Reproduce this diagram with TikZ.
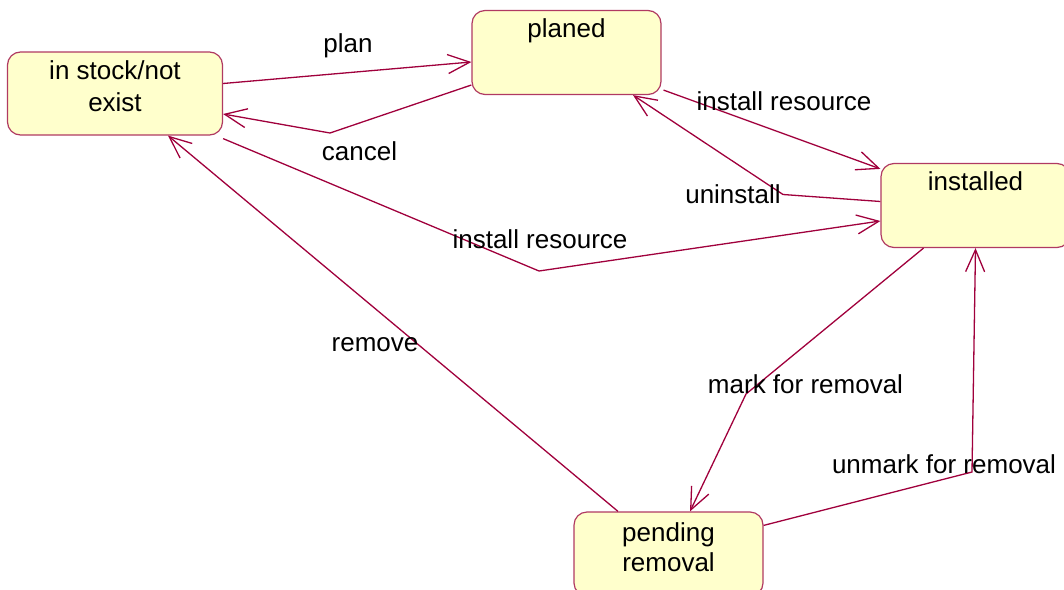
\documentclass[tikz,border=0pt]{standalone}
\usepackage{fontspec}
\setmainfont{Liberation Sans}
\usetikzlibrary{arrows.meta}
\definecolor{statefill}{HTML}{FFFFCC}
\definecolor{stateline}{HTML}{B03A62}
\definecolor{transline}{HTML}{A0003C}
\begin{document}
\begin{tikzpicture}[x=1pt, y=-1pt,
   state/.style={draw=stateline, fill=statefill, line width=1.2pt, rounded corners=13pt, inner sep=0pt, align=center, minimum width=189pt, minimum height=84pt, font=\fontsize{26}{31}\selectfont},
   trans/.style={draw=transline, line width=1.3pt, -{Straight Barb[length=22pt,width=19pt]}},
   tlabel/.style={inner sep=0pt, anchor=base, font=\fontsize{26}{31}\selectfont}]

\useasboundingbox (0,0) rectangle (1064,589);
\clip (0,0) rectangle (1064,589);

% states
\node[state, minimum width=215pt, minimum height=83pt, text height=59pt, text depth=24pt, font=\fontsize{26}{32}\selectfont] (stock) at (115,93.5) {in stock/not\\exist};
\node[state, text height=26.5pt, text depth=57.5pt] (planed) at (566.5,52.5) {planed};
\node[state, text height=27pt, text depth=57pt] (installed) at (975.5,205.5) {installed};
\node[state, text height=59pt, text depth=25pt, font=\fontsize{26}{30}\selectfont] (pending) at (668.5,554) {pending\\removal};

% bends
\coordinate (cancel-bend) at (330,133);
\coordinate (instres-bend) at (539,271);
\coordinate (uninst-bend) at (783,194.5);
\coordinate (mark-bend) at (746,394);
\coordinate (unmark-bend) at (972,472);

% transitions
\draw[trans] ([yshift=10pt]stock.east) -- ([yshift=-9.5pt]planed.west)
   node[tlabel] (plan-lbl) at (348,52) {plan};
\draw[trans] ([yshift=-32.5pt]planed.west) -- (cancel-bend) -- ([yshift=-20.5pt]stock.east)
   node[tlabel] (cancel-lbl) at (359.5,160) {cancel};
\draw[trans] ([yshift=-3pt]stock.south east) -- (instres-bend) -- ([yshift=-15.5pt]installed.west)
   node[tlabel] (instres-lbl) at (540,248.5) {install resource};
\draw[trans] ([xshift=2pt,yshift=5pt]planed.south east) -- ([yshift=-6pt]installed.north west)
   node[tlabel] (install-lbl) at (784,110.5) {install resource};
\draw[trans] ([yshift=4pt]installed.west) -- (uninst-bend) -- ([xshift=66.5pt]planed.south)
   node[tlabel] (uninst-lbl) at (733,203.5) {uninstall};
\draw[trans] ([xshift=-52pt]installed.south) -- (mark-bend) -- ([xshift=21.5pt]pending.north)
   node[tlabel] (mark-lbl) at (805.5,393.5) {mark for removal};
\draw[trans] ([yshift=-14pt]pending.north east) -- (unmark-bend) -- (installed.south)
   node[tlabel] (unmark-lbl) at (944,473.5) {unmark for removal};
\draw[trans] ([xshift=-50.5pt]pending.north) -- ([xshift=53pt]stock.south)
   node[tlabel] (remove-lbl) at (375,351) {remove};

\end{tikzpicture}
\end{document}
